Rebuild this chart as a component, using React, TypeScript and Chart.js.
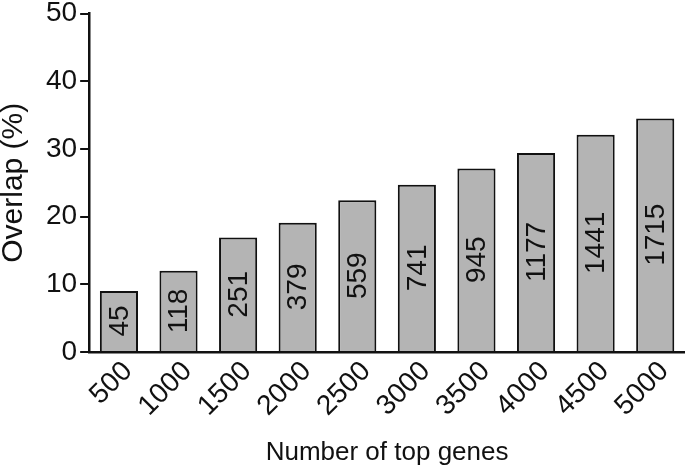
import React, { useEffect, useRef } from "react";
import { Chart, registerables } from "chart.js";

Chart.register(...registerables);

const categories = ["500", "1000", "1500", "2000", "2500", "3000", "3500", "4000", "4500", "5000"];
const overlapPercent = [9.0, 12.0, 16.9, 19.1, 22.4, 24.7, 27.1, 29.4, 32.1, 34.5];
const overlapCounts = ["45", "118", "251", "379", "559", "741", "945", "1177", "1441", "1715"];
const yTicks = [0, 10, 20, 30, 40, 50];

const FONT = "'Liberation Sans', Arial, sans-serif";

const barLabelPlugin = {
  id: "barLabels",
  afterDatasetsDraw(chart: any) {
    const ctx = chart.ctx;
    const meta = chart.getDatasetMeta(0);
    ctx.save();
    ctx.fillStyle = "#111";
    ctx.font = `28px ${FONT}`;
    ctx.textAlign = "center";
    ctx.textBaseline = "middle";
    meta.data.forEach((bar: any, i: number) => {
      const cx = bar.x;
      const cy = (bar.y + bar.base) / 2;
      ctx.save();
      ctx.translate(cx, cy);
      ctx.rotate(-Math.PI / 2);
      ctx.fillText(overlapCounts[i], 0, 1);
      ctx.restore();
    });
    ctx.restore();
  },
};

export default function App() {
  const ref = useRef<HTMLCanvasElement | null>(null);
  useEffect(() => {
    if (!ref.current) return;
    const chart = new Chart(ref.current, {
      type: "bar",
      data: {
        labels: categories,
        datasets: [
          {
            data: overlapPercent,
            backgroundColor: "#b4b4b4",
            borderColor: "#111",
            borderWidth: 2,
            barPercentage: 0.64,
            categoryPercentage: 1,
          },
        ],
      },
      options: {
        animation: false,
        responsive: false,
        maintainAspectRatio: false,
        layout: { padding: { top: 0, right: 0, left: 0, bottom: 2 } },
        plugins: { legend: { display: false }, tooltip: { enabled: false } },
        scales: {
          x: {
            grid: { display: false, drawTicks: false },
            border: { display: true, color: "#111", width: 2.5 },
            ticks: {
              color: "#111",
              font: { family: FONT, size: 28 },
              minRotation: 45,
              maxRotation: 45,
              padding: 3,
              labelOffset: 9,
            },
            title: {
              display: true,
              text: "Number of top genes",
              color: "#111",
              font: { family: FONT, size: 26 },
              padding: { top: 11, bottom: 0 },
            },
          },
          y: {
            min: 0,
            max: 50,
            afterBuildTicks: (scale: any) => {
              scale.ticks = yTicks.map((v) => ({ value: v }));
            },
            grid: { drawOnChartArea: false, drawTicks: true, tickLength: 9, color: "#111", lineWidth: 2 },
            border: { display: true, color: "#111", width: 2.5 },
            ticks: {
              color: "#111",
              font: { family: FONT, size: 28, lineHeight: 0.75 },
              padding: 3,
            },
            title: {
              display: true,
              text: "Overlap (%)",
              color: "#111",
              font: { family: FONT, size: 30, lineHeight: 0.9 },
              padding: { top: 0, bottom: 16 },
            },
          },
        },
      },
      plugins: [barLabelPlugin],
    });
    return () => chart.destroy();
  }, []);
  return (
    <div style={{ position: "fixed", left: 0, top: 0, width: 685, height: 470, background: "#fff" }}>
      <canvas ref={ref} width={685} height={470} style={{ width: 685, height: 470 }} />
    </div>
  );
}
